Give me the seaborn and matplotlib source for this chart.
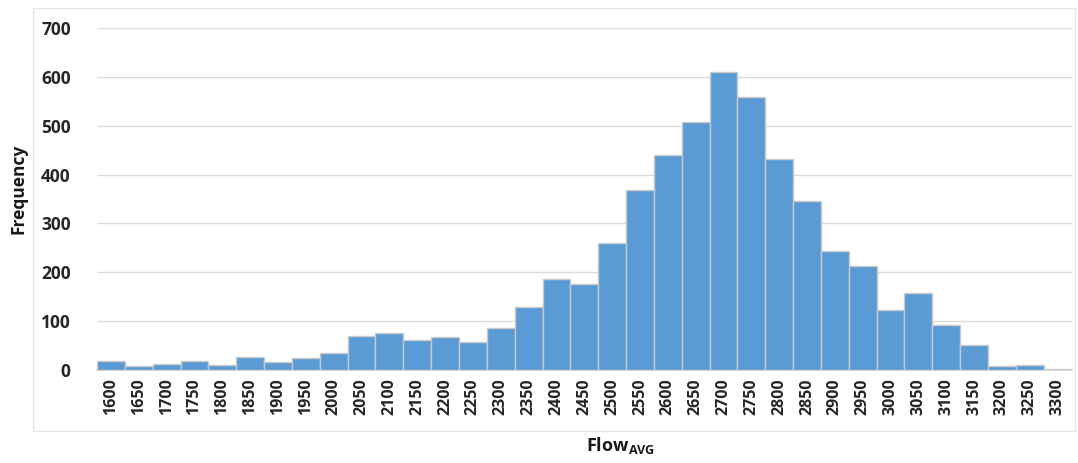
import matplotlib
matplotlib.use("Agg")
import matplotlib.pyplot as plt
import seaborn as sns
from matplotlib.patches import Rectangle

# Data
flow_bins = ["1600", "1650", "1700", "1750", "1800", "1850", "1900", "1950",
             "2000", "2050", "2100", "2150", "2200", "2250", "2300", "2350",
             "2400", "2450", "2500", "2550", "2600", "2650", "2700", "2750",
             "2800", "2850", "2900", "2950", "3000", "3050", "3100", "3150",
             "3200", "3250", "3300"]
frequency = [18, 9, 13, 19, 11, 26, 17, 24,
             35, 70, 75, 62, 68, 58, 85, 128,
             187, 175, 260, 368, 440, 508, 610, 558,
             432, 345, 243, 212, 123, 158, 92, 52,
             8, 11, 2]
y_ticks = [0, 100, 200, 300, 400, 500, 600, 700]

sns.set_theme(style="white")
plt.rcParams["font.family"] = ["Open Sans", "DejaVu Sans"]
plt.rcParams["mathtext.fontset"] = "custom"
plt.rcParams["mathtext.bf"] = "Open Sans:bold"
plt.rcParams["mathtext.rm"] = "Open Sans:bold"

fig = plt.figure(figsize=(10.78, 4.63), dpi=100)
ax = fig.add_axes([0.09, 0.2009, 0.904, 0.7386])

# light chart-area frame like the spreadsheet export
fig.patches.append(Rectangle((0.031, 0.07), 0.966, 0.912, transform=fig.transFigure,
                             fill=False, edgecolor="#e6e6e6", linewidth=1))

sns.barplot(x=flow_bins, y=frequency, color="#5b9bd5", width=1.0,
            edgecolor="#c9c9c9", linewidth=1.0, saturation=1, ax=ax, zorder=3)

ax.set_ylim(0, 700)
ax.set_yticks(y_ticks)
ax.set_xlim(-0.5, len(flow_bins) - 0.5)
ax.yaxis.grid(True, color="#dcdcdc", linewidth=1, zorder=0)
ax.set_axisbelow(True)

for side in ["top", "right", "left"]:
    ax.spines[side].set_visible(False)
ax.spines["bottom"].set_color("#d0d0d0")

ax.tick_params(axis="y", length=0, pad=19, labelsize=12.5, labelcolor="#262626")
ax.tick_params(axis="x", length=0, pad=6, labelsize=11.5, labelcolor="#262626",
               rotation=90)
for lbl in ax.get_xticklabels() + ax.get_yticklabels():
    lbl.set_fontweight("bold")

ax.set_ylabel("Frequency", fontsize=12.5, fontweight="bold", color="#1a1a1a")
ax.yaxis.set_label_coords(-0.071, 0.53)
ax.set_xlabel(r"Flow$_{\mathbf{AVG}}$", fontsize=13, fontweight="bold", color="#1a1a1a")
ax.xaxis.set_label_coords(0.537, -0.19)

fig.savefig("out.png", dpi=100)
